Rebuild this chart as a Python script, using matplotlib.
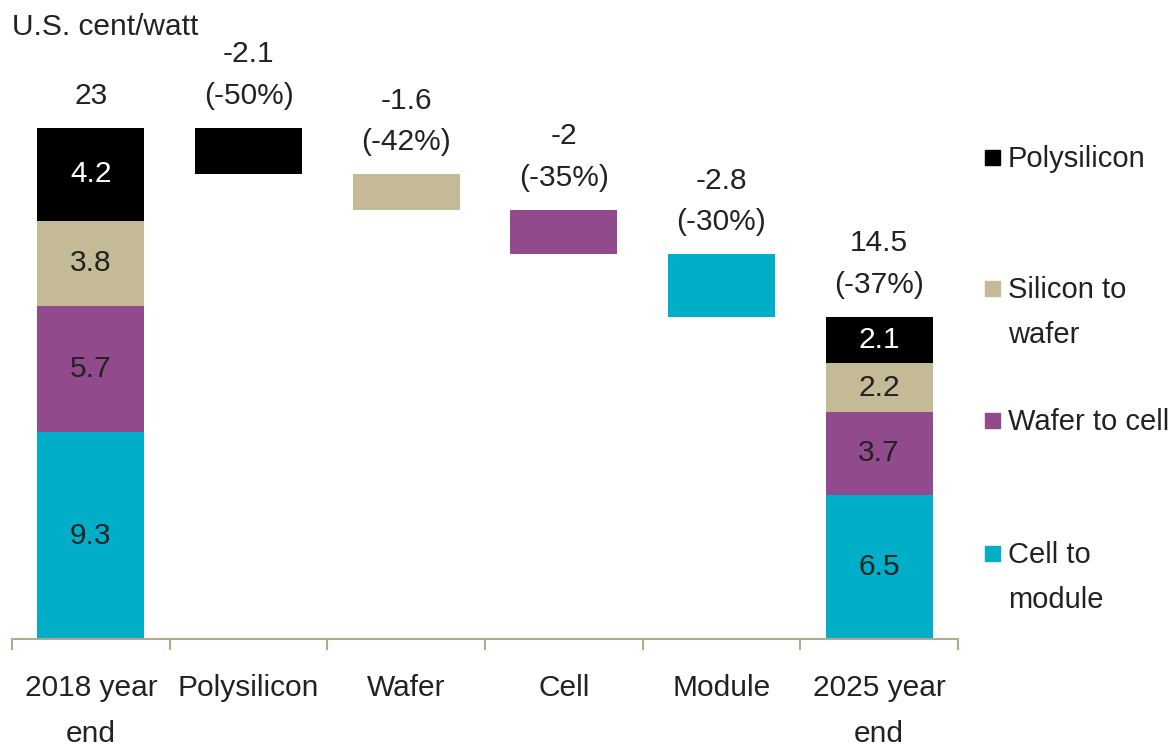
import matplotlib.pyplot as plt
from matplotlib.patches import Rectangle
import numpy as np

plt.rcParams['font.family'] = ['Liberation Sans', 'DejaVu Sans']

categories = ['2018 year\nend', 'Polysilicon', 'Wafer', 'Cell', 'Module', '2025 year\nend']
segments = ['Polysilicon', 'Silicon to\nwafer', 'Wafer to cell', 'Cell to\nmodule']
colors = ['#000000', '#c4ba96', '#914a8c', '#00afc7']

# stacked cost, bottom to top: cell to module, wafer to cell, silicon to wafer, polysilicon
cost_2018 = [9.3, 5.7, 3.8, 4.2]
cost_2025 = [6.5, 3.7, 2.2, 2.1]
drops = [2.1, 1.6, 2.0, 2.8]
drop_labels = ['-2.1\n(-50%)', '-1.6\n(-42%)', '-2\n(-35%)', '-2.8\n(-30%)']
total_labels = ['23', '14.5\n(-37%)']

text_col = '#222222'
axis_col = '#b3aa8e'
fs = 21.5
width = 0.68
W, H = 1174, 748

fig = plt.figure(figsize=(W / 100, H / 100), dpi=100)
ax = fig.add_axes([12 / W, 109 / H, 946 / W, 589 / H])

x = np.arange(len(categories))
stack_colors = colors[::-1]
label_colors = ['#222222', '#222222', '#222222', 'white']


def top_label(pos, top, text):
    ax.annotate(text, (pos, top), xytext=(0, 13), textcoords='offset points',
                ha='center', va='bottom', fontsize=fs, color=text_col,
                linespacing=1.62)


def stacked(pos, values):
    bottom = 0
    for v, c, tc in zip(values, stack_colors, label_colors):
        ax.bar(pos, v, width, bottom=bottom, color=c)
        ax.text(pos, bottom + v / 2, f'{v}', ha='center', va='center',
                fontsize=fs, color=tc)
        bottom += v
    return bottom


top_2018 = stacked(x[0], cost_2018)
top_label(x[0], top_2018, total_labels[0])

# waterfall steps, one per stage, coloured by the segment they shrink
level = top_2018
for i, (d, lab) in enumerate(zip(drops, drop_labels)):
    ax.bar(x[i + 1], d, width, bottom=level - d, color=colors[i])
    top_label(x[i + 1], level, lab)
    level -= d

top_2025 = stacked(x[5], cost_2025)
top_label(x[5], top_2025, total_labels[1])

ax.set_xlim(-0.5, 5.5)
ax.set_ylim(0, 26.5)
ax.set_yticks([])
for s in ['top', 'right', 'left']:
    ax.spines[s].set_visible(False)
ax.spines['bottom'].set_color(axis_col)
ax.spines['bottom'].set_linewidth(1.5)

ax.set_xticks(x)
ax.set_xticklabels(categories, fontsize=fs, color=text_col, linespacing=1.85)
ax.set_xticks(np.arange(-0.5, 6, 1), minor=True)
ax.tick_params(axis='x', which='major', length=0, pad=25)
ax.tick_params(axis='x', which='minor', length=8, width=1.5, color=axis_col)

fig.text(12 / W, 1 - 35 / H, 'U.S. cent/watt', ha='left', va='baseline',
         fontsize=fs, color=text_col)

# legend drawn by hand so each square sits on the first line of its label
legend_base = [167, 298, 430, 563]
line_px = 45
for lab, c, yb in zip(segments, colors, legend_base):
    fig.add_artist(Rectangle((985 / W, 1 - (yb - 2) / H), 15 / W, 15 / H,
                             color=c, transform=fig.transFigure))
    for k, line in enumerate(lab.split('\n')):
        fig.text(1008 / W, 1 - (yb + k * line_px) / H, line, ha='left',
                 va='baseline', fontsize=21, color=text_col)

fig.savefig('out.png', dpi=100, facecolor='white')
